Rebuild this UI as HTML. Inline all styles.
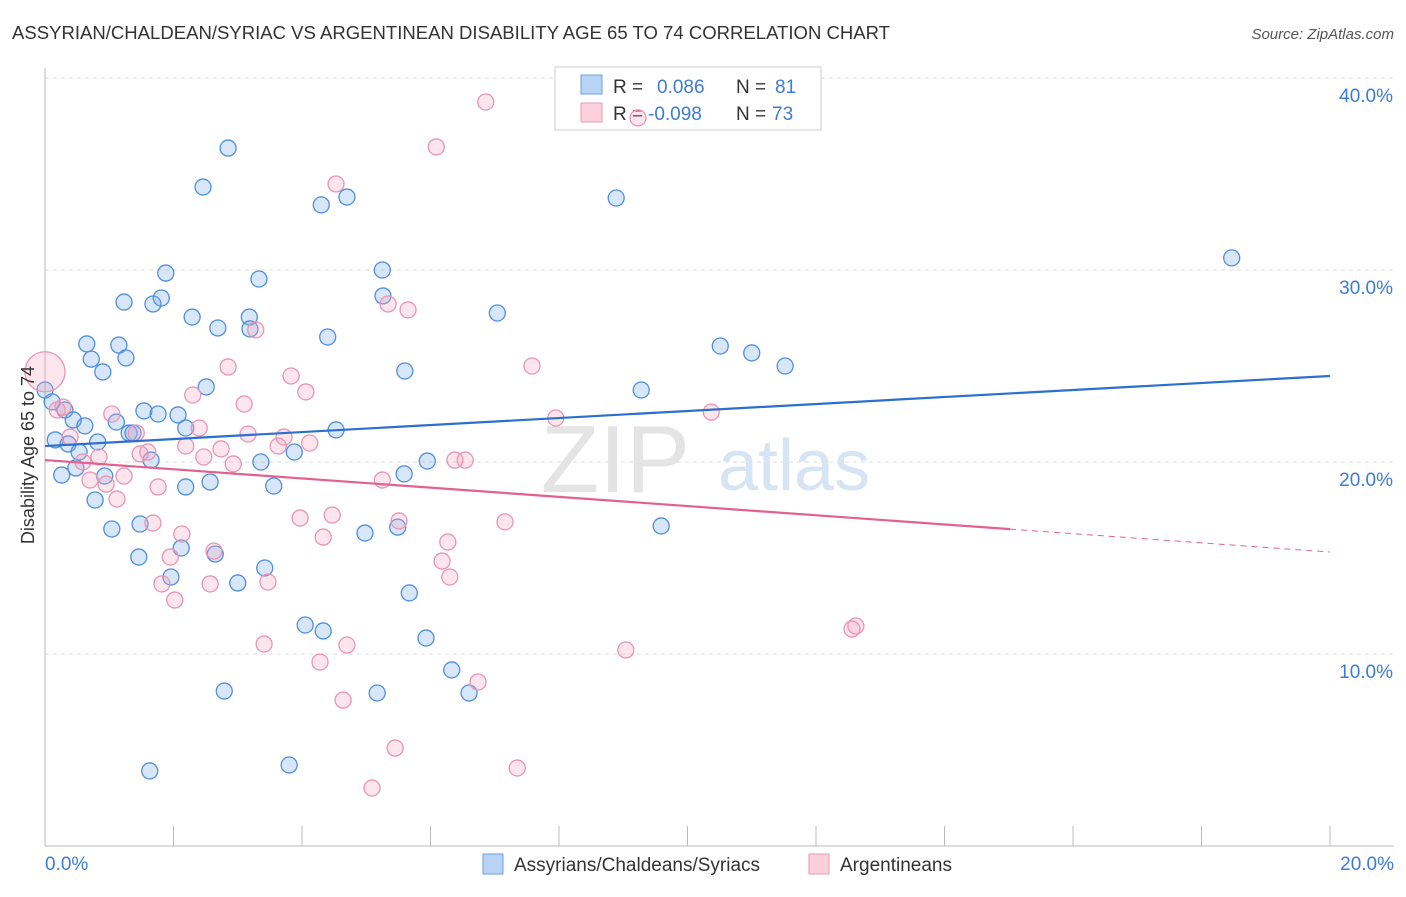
<!DOCTYPE html>
<html><head><meta charset="utf-8"><style>
body{margin:0;background:#fff;font-family:"Liberation Sans",sans-serif;}
svg text{font-family:"Liberation Sans",sans-serif;}
</style></head><body>
<svg id="c" width="1406" height="892">
<text x="12" y="39" font-size="18" fill="#333" textLength="878" lengthAdjust="spacingAndGlyphs">ASSYRIAN/CHALDEAN/SYRIAC VS ARGENTINEAN DISABILITY AGE 65 TO 74 CORRELATION CHART</text>
<text x="1394" y="39" font-size="15" fill="#555" text-anchor="end" font-style="italic">Source: ZipAtlas.com</text>
<g id="grid"></g>
<text x="690" y="492" font-size="96" fill="#e4e4e4" text-anchor="end" font-family="Liberation Serif">ZIP</text>
<text x="718" y="490" font-size="72" fill="#d6e4f4">atlas</text>
<g>
<rect x="555" y="67" width="266" height="63" fill="#fff" stroke="#ccc"/>
<rect x="581" y="75" width="21" height="19" fill="#b8d3f4" stroke="#6a9fe0"/>
<rect x="581" y="103" width="21" height="19" fill="#fbcfdc" stroke="#ec9ab5"/>
<text x="613" y="93" font-size="19" fill="#333">R =</text><text x="657" y="93" font-size="19" fill="#3d7bd6">0.086</text>
<text x="736" y="93" font-size="19" fill="#333">N =</text><text x="775" y="93" font-size="19" fill="#3d7bd6">81</text>
<text x="613" y="120" font-size="19" fill="#333">R =</text><text x="648" y="120" font-size="19" fill="#3d7bd6">-0.098</text>
<text x="736" y="120" font-size="19" fill="#333">N =</text><text x="772" y="120" font-size="19" fill="#3d7bd6">73</text>
</g>
<g id="marks"></g>
<text transform="translate(34,455) rotate(-90)" font-size="18" fill="#333" text-anchor="middle">Disability Age 65 to 74</text>
<g>
<rect x="483" y="854" width="20" height="20" fill="#b8d3f4" stroke="#6a9fe0"/>
<text x="514" y="871" font-size="19" fill="#333">Assyrians/Chaldeans/Syriacs</text>
<rect x="809" y="854" width="20" height="20" fill="#fbcfdc" stroke="#ec9ab5"/>
<text x="840" y="871" font-size="19" fill="#333">Argentineans</text>
</g>
</svg>
<script>
const xTicks=[0,2,4,6,8,10,12,14,16,18,20];
const yTicks=[10,20,30,40];
const xTickLabels=["0.0%","20.0%"];
const blueX=[2.85,2.46,4.30,4.70,8.89,18.47,1.88,3.33,5.25,1.23,1.68,1.81,2.29,2.69,3.18,3.19,5.26,7.04,4.40,0.65,1.15,0.72,1.26,0.90,5.60,10.51,11.0,11.52,9.28,2.51,0.0,0.11,0.31,1.54,1.76,2.07,0.44,0.62,1.11,2.19,4.53,1.31,1.37,0.16,0.36,0.82,0.53,3.88,1.65,3.36,5.95,0.26,0.48,0.93,5.59,2.19,2.57,3.56,0.78,1.04,1.48,4.98,5.49,9.59,2.12,1.46,2.65,3.42,1.96,3.0,5.67,4.05,4.33,5.93,6.33,2.79,5.17,6.60,3.80,1.63];
const blueY=[36.35,34.32,33.39,33.80,33.75,30.63,29.84,29.53,30.0,28.33,28.23,28.54,27.55,26.98,27.55,26.93,28.65,27.76,26.51,26.15,26.09,25.36,25.42,24.69,24.74,26.04,25.68,25.0,23.75,23.91,23.75,23.13,22.71,22.66,22.5,22.45,22.19,21.88,22.08,21.77,21.67,21.51,21.51,21.15,20.94,21.04,20.52,20.52,20.10,20.0,20.05,19.32,19.69,19.27,19.38,18.70,18.96,18.75,18.02,16.51,16.77,16.30,16.61,16.67,15.52,15.05,15.21,14.48,14.01,13.70,13.18,11.51,11.20,10.83,9.17,8.07,7.97,7.97,4.22,3.91];
const pinkX=[6.86,9.23,6.09,4.53,5.34,5.65,3.28,2.85,7.58,3.83,0,4.06,2.30,3.10,7.95,10.37,0.19,0.28,1.04,2.40,1.42,3.16,3.72,0.39,2.19,3.63,4.12,2.74,1.60,1.48,0.84,2.47,0.59,2.93,6.38,6.54,1.23,0.70,0.95,5.25,1.76,1.12,3.97,4.47,1.68,5.51,7.16,2.13,4.33,6.27,2.63,1.95,6.18,6.30,1.82,2.57,3.47,2.02,12.62,12.56,3.41,4.70,9.04,4.28,6.74,4.64,5.45,7.35,5.09];
const pinkY=[38.75,37.92,36.41,34.48,28.23,27.92,26.88,24.95,25.0,24.48,24.7,23.65,23.49,23.02,22.29,22.60,22.71,22.86,22.50,21.77,21.51,21.46,21.30,21.30,20.83,20.83,20.99,20.68,20.52,20.42,20.26,20.26,20.0,19.90,20.10,20.10,19.27,19.06,18.85,19.06,18.70,18.07,17.08,17.24,16.82,16.93,16.88,16.25,16.09,15.83,15.36,15.05,14.84,14.01,13.65,13.65,13.75,12.81,11.46,11.30,10.52,10.47,10.21,9.58,8.54,7.60,5.10,4.06,3.02];
const pinkR=[8,8,8,8,8,8,8,8,8,8,20];
const blueTrend=[20.83,24.48];
const pinkTrend=[20.10,15.31];
const pinkSolidEnd=15.02;
const X=v=>45+v*64.25, Y=v=>846-v*19.2;
const NS="http://www.w3.org/2000/svg";
const grid=document.getElementById('grid'), marks=document.getElementById('marks'), svg=document.getElementById('c');
function mk(t,a,p){const e=document.createElementNS(NS,t);for(const k in a)e.setAttribute(k,a[k]);(p||marks).appendChild(e);return e;}
yTicks.forEach(t=>{
 const l=mk('line',{x1:45,x2:1394,y1:Y(t),y2:Y(t),stroke:'#ddd','stroke-dasharray':'4,4'},grid);
 
 
 const tx=mk('text',{x:1393,y:Y(t)+24,'font-size':19,fill:'#3d7bd6','text-anchor':'end'},svg);
 tx.textContent=t.toFixed(1)+'%';
 
 
});
const ax=mk('line',{x1:45,x2:45,y1:68,y2:846,stroke:'#bbb'},grid);


const bx=mk('line',{x1:45,x2:1394,y1:846,y2:846,stroke:'#bbb'},grid);


xTicks.forEach(t=>{
 const l=mk('line',{x1:X(t),x2:X(t),y1:826,y2:846,stroke:'#bbb'},grid);
 
 
});
[[0,'start',45],[20,'end',1394]].forEach((d,i)=>{
 const tx=mk('text',{x:d[2],y:870,'font-size':19,fill:'#3d7bd6','text-anchor':d[1]},svg);
 tx.textContent=xTickLabels[i];
 
 
});
blueX.forEach((x,i)=>{
 const c=mk('circle',{cx:X(x),cy:Y(blueY[i]),r:8,fill:'rgba(110,165,235,0.28)',stroke:'#4f8fdc','stroke-width':1.3});
 
 
});
pinkX.forEach((x,i)=>{
 const c=mk('circle',{cx:X(x),cy:Y(pinkY[i]),r:pinkR[i]||8,fill:'rgba(245,160,190,0.28)',stroke:'#e995b3','stroke-width':1.3});
 
 
});
const bt=mk('line',{x1:X(0),y1:Y(blueTrend[0]),x2:X(20),y2:Y(blueTrend[1]),stroke:'#2b6fd1','stroke-width':2.2});


const pm=pinkTrend[0]+(pinkTrend[1]-pinkTrend[0])*pinkSolidEnd/20;
const pt=mk('line',{x1:X(0),y1:Y(pinkTrend[0]),x2:X(pinkSolidEnd),y2:Y(pm),stroke:'#e2628f','stroke-width':2.2});


const pd=mk('line',{x1:X(pinkSolidEnd),y1:Y(pm),x2:X(20),y2:Y(pinkTrend[1]),stroke:'#e2628f','stroke-width':1,'stroke-dasharray':'6,5'});


</script>
</body></html>
